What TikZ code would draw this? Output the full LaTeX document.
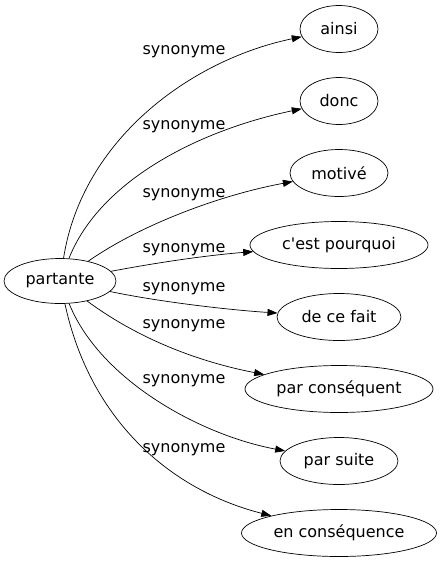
\documentclass[tikz,border=0pt]{standalone}
\usepackage{fontspec}
\setmainfont{DejaVu Sans}[Ligatures=TeXOff]
\usetikzlibrary{arrows.meta, shapes.geometric}

\begin{document}
\begin{tikzpicture}[x=1pt, y=-1pt, line width=0.7pt,
	mot/.style={draw, ellipse, inner sep=0pt, minimum height=47pt, font=\fontsize{16}{19}\selectfont},
	lien/.style={-{Triangle[length=10pt, width=7pt]}},
	etiq/.style={font=\fontsize{16}{19}\selectfont}]
				
				\useasboundingbox (0,0) rectangle (441,563);
				
				\node[mot, minimum width=112pt, minimum height=45pt] (partante) at (60,281) {partante};
				
				\node[mot, minimum width=78pt] (ainsi) at (339,29) {ainsi};
				\node[mot, minimum width=78pt] (donc) at (339,101) {donc};
				\node[mot, minimum width=98pt] (motive) at (339,173) {motivé};
				\node[mot, minimum width=178pt] (pourquoi) at (339,245) {c'est pourquoi};
				\node[mot, minimum width=124pt] (cefait) at (339,317) {de ce fait};
				\node[mot, minimum width=188pt] (parcons) at (339,389) {par conséquent};
				\node[mot, minimum width=118pt] (parsuite) at (339,461) {par suite};
				\node[mot, minimum width=195pt] (encons) at (339,533) {en conséquence};
				
				\draw[lien] (partante) .. controls (82,140) and (190,60) .. (ainsi);
				\draw[lien] (partante) .. controls (100,180) and (200,130) .. (donc);
				\draw[lien] (partante) .. controls (140,225) and (220,195) .. (motive);
				\draw[lien] (partante) .. controls (160,262) and (210,255) .. (pourquoi);
				\draw[lien] (partante) .. controls (160,302) and (230,310) .. (cefait);
				\draw[lien] (partante) .. controls (140,340) and (200,362) .. (parcons);
				\draw[lien] (partante) .. controls (100,380) and (200,435) .. (parsuite);
				\draw[lien] (partante) .. controls (90,420) and (170,490) .. (encons);
				
				\node[etiq] (s1) at (184,52) {synonyme};
				\node[etiq] (s2) at (184,127) {synonyme};
				\node[etiq] (s3) at (184,195) {synonyme};
				\node[etiq] (s4) at (184,250) {synonyme};
				\node[etiq] (s5) at (184,289) {synonyme};
				\node[etiq] (s6) at (184,326) {synonyme};
				\node[etiq] (s7) at (184,381) {synonyme};
				\node[etiq] (s8) at (184,450) {synonyme};
			\end{tikzpicture}
\end{document}
